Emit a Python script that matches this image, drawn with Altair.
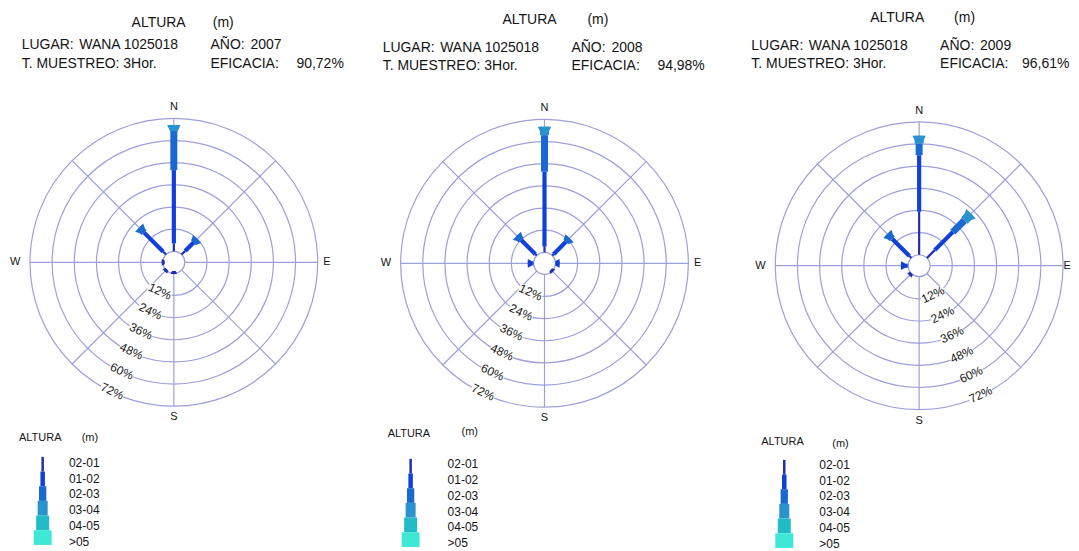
import altair as alt
import pandas as pd

# ---------------- data ----------------
DIRS = ["N", "NE", "E", "SE", "S", "SW", "W", "NW"]
BEARINGS = [0, 45, 90, 135, 180, 225, 270, 315]
CLASSES = ["02-01", "01-02", "02-03", "03-04", "04-05", ">05"]
YEARS = ["2007", "2008", "2009"]
EFICACIA = ["90,72%", "94,98%", "96,61%"]
LUGAR = "WANA 1025018"
MUESTREO = "T. MUESTREO: 3Hor."
RING_PCTS = [12, 24, 36, 48, 60, 72]
RING_TEXT = ["12%", "24%", "36%", "48%", "60%", "72%"]

# frequency (%) per wave-height class, directions N, NE, E, SE, S, SW, W, NW
H2007_0201 = [4.3, 2.7, 0.0, 0.0, 0.4, 1.0, 0.6, 2.2]
H2007_0102 = [39.7, 6.5, 0.0, 0.0, 0.0, 0.0, 0.0, 14.6]
H2007_0203 = [21.7, 2.7, 0.0, 0.0, 0.0, 0.0, 0.0, 3.8]
H2007_0304 = [2.7, 0.0, 0.0, 0.0, 0.0, 0.0, 0.0, 0.0]
H2007_0405 = [0.0, 0.0, 0.0, 0.0, 0.0, 0.0, 0.0, 0.0]
H2007_GT05 = [0.0, 0.0, 0.0, 0.0, 0.0, 0.0, 0.0, 0.0]

H2008_0201 = [3.1, 1.0, 0.0, 0.5, 0.0, 0.0, 0.3, 1.0]
H2008_0102 = [40.6, 9.5, 2.2, 0.0, 0.0, 0.0, 2.8, 10.9]
H2008_0203 = [19.8, 2.8, 0.0, 0.0, 0.0, 0.0, 0.0, 3.3]
H2008_0304 = [4.6, 0.0, 0.0, 0.0, 0.0, 0.0, 0.0, 0.0]
H2008_0405 = [0.0, 0.0, 0.0, 0.0, 0.0, 0.0, 0.0, 0.0]
H2008_GT05 = [0.0, 0.0, 0.0, 0.0, 0.0, 0.0, 0.0, 0.0]

H2009_0201 = [23.3, 6.0, 0.0, 0.0, 0.0, 1.5, 0.3, 1.5]
H2009_0102 = [30.6, 13.8, 0.0, 0.0, 0.0, 0.0, 3.6, 13.1]
H2009_0203 = [6.4, 8.9, 0.0, 0.0, 0.0, 0.0, 0.0, 3.8]
H2009_0304 = [4.2, 5.1, 0.0, 0.0, 0.0, 0.0, 0.0, 0.0]
H2009_0405 = [0.0, 0.0, 0.0, 0.0, 0.0, 0.0, 0.0, 0.0]
H2009_GT05 = [0.0, 0.0, 0.0, 0.0, 0.0, 0.0, 0.0, 0.0]

FREQ = [
    [H2007_0201, H2007_0102, H2007_0203, H2007_0304, H2007_0405, H2007_GT05],
    [H2008_0201, H2008_0102, H2008_0203, H2008_0304, H2008_0405, H2008_GT05],
    [H2009_0201, H2009_0102, H2009_0203, H2009_0304, H2009_0405, H2009_GT05],
]

# ---------------- style / layout ----------------
FONT = "Liberation Sans"
TEXT_COLOR = "#151515"
GRID = "#9e9edb"
CLASS_COLORS = ["#1f30ae", "#1040d8", "#1a68d2", "#2a92cc", "#22bcc8", "#3ee8d4"]
CLASS_WIDTHS = [2.2, 4.2, 7.0, 9.0, 12.0, 16.0]
LEGEND_WIDTHS = [2.5, 4.5, 7.3, 10.0, 13.0, 18.0]
FLARE_EXTRA = 4.5
FLARE_PATH = "M-1,0L1,0L0.55,0.9L-0.55,0.9Z"
BOX_PATH = "M-1,-0.38L1,-0.38L1,0.38L-1,0.38Z"
HOLE = 11.0
K = 133.0 / 72.0
CARD_PCT = [[78.0, 77.0, 78.0, 80.0], [78.0, 77.0, 78.0, 80.0], [78.0, 74.2, 78.0, 80.0]]  # N, E, S, W

TOP = 8
PANEL_W = [354, 354, 355]
PANEL_LEFT = [8, 362, 716]
PANEL_H = 543
CENTER_X = [174, 545, 920]
CENTER_Y = [262.3, 263.3, 265.7]
LABEL_BEARING = [205.5, 205.5, 154.5]
LABEL_ANGLE = [25, 25, 335]

HDR_LEFT = [21.7, 383, 752]
HDR_TITLE_X = [131.7, 503, 871]
HDR_UNIT_X = [213, 588, 955]
HDR_TITLE_Y = [23, 20, 18]
HDR_ROW1_Y = [44.5, 47.5, 46]
HDR_ROW2_Y = [63.3, 66, 64]
HDR_EFF_DX = [275, 275, 271]

LEG_TITLE_X = [19, 388, 762]
LEG_UNIT_X = [81.7, 462, 833]
LEG_TITLE_Y = [438.3, 434, 442]
LEG_UNIT_Y = [438.3, 432, 444]
LEG_CX = [42.7, 411, 785]
LEG_TOP = [457, 459, 460]
LEG_STEP = 14.7
LEG_LAB_X = [69, 448, 820]
LEG_LAB_Y0 = [463, 464.5, 465]
LEG_LAB_STEP = 15.8

color_scale = alt.Scale(domain=CLASSES, range=CLASS_COLORS)


def polar(p, a, ox, oy, shift=0.0):
    r = f"({HOLE} + datum.{p}*{K} + ({shift}))"
    return {ox: f"{r}*sin(datum.{a}*PI/180)", oy: f"{r}*cos(datum.{a}*PI/180)"}


def build_tables(year_lists):
    segs, caps = [], []
    for j, b in enumerate(BEARINGS):
        vals = [lst[j] for lst in year_lists]
        nz = [k for k, v in enumerate(vals) if v > 0]
        if not nz:
            continue
        last = max(nz)
        cum = 0.0
        for k, v in enumerate(vals):
            if v <= 0:
                continue
            segs.append(dict(ang=b, cls=CLASSES[k], p0=cum, p1=cum + v, w=CLASS_WIDTHS[k]))
            cum += v
            if k == last:
                wo = CLASS_WIDTHS[k] + FLARE_EXTRA
                caps.append(dict(ang=b, cls=CLASSES[k], p=cum, s=wo * wo))
    return pd.DataFrame(segs), pd.DataFrame(caps)


def panel(i):
    left = PANEL_LEFT[i]
    W, H = PANEL_W[i], PANEL_H
    cx = CENTER_X[i] - left
    cy = CENTER_Y[i] - TOP
    xs = alt.Scale(domain=[-cx, W - cx], zero=False, nice=False)
    ys = alt.Scale(domain=[-(H - cy), cy], zero=False, nice=False)

    def X(f):
        return alt.X(f + ":Q", scale=xs, axis=None)

    def Y(f):
        return alt.Y(f + ":Q", scale=ys, axis=None)

    layers = []

    # rings
    rings = alt.Chart(pd.DataFrame({"p": [0] + RING_PCTS})).transform_calculate(
        r=f"{HOLE} + datum.p*{K}", zx="0", zy="0"
    ).transform_calculate(sz="pow(2*datum.r, 2)").mark_point(
        shape="circle", filled=False, stroke=GRID, strokeWidth=1.2, opacity=1
    ).encode(x=X("zx"), y=Y("zy"), size=alt.Size("sz:Q", scale=None))
    layers.append(rings)

    # spokes
    spokes = alt.Chart(pd.DataFrame({"ang": BEARINGS})).transform_calculate(
        p0="0", p1=str(RING_PCTS[-1])
    ).transform_calculate(
        **polar("p0", "ang", "x0", "y0"), **polar("p1", "ang", "x1", "y1")
    ).mark_rule(stroke=GRID, strokeWidth=1.2).encode(
        x=X("x0"), y=Y("y0"), x2="x1:Q", y2="y1:Q"
    )
    layers.append(spokes)

    # ring labels with white boxes
    lab = alt.Chart(pd.DataFrame({"p": RING_PCTS, "t": RING_TEXT})).transform_calculate(
        ang=str(LABEL_BEARING[i])
    ).transform_calculate(**polar("p", "ang", "lx", "ly", shift=-1.0))
    layers.append(
        lab.mark_point(shape=BOX_PATH, filled=True, fill="white", strokeWidth=0,
                       opacity=1, size=620, angle=LABEL_ANGLE[i]).encode(x=X("lx"), y=Y("ly"))
    )
    layers.append(
        lab.mark_text(angle=LABEL_ANGLE[i], fontSize=12, font=FONT, color=TEXT_COLOR,
                      align="center", baseline="middle").encode(x=X("lx"), y=Y("ly"), text="t:N")
    )

    # cardinal labels
    card = alt.Chart(pd.DataFrame({"lab": DIRS[::2], "ang": BEARINGS[::2], "p": CARD_PCT[i]})
                     ).transform_calculate(**polar("p", "ang", "cx", "cy")).mark_text(
        fontSize=11, font=FONT, color=TEXT_COLOR, align="center", baseline="middle"
    ).encode(x=X("cx"), y=Y("cy"), text="lab:N")
    layers.append(card)

    # petals
    segs, caps = build_tables(FREQ[i])
    body = alt.Chart(segs).transform_calculate(
        **polar("p0", "ang", "x0", "y0"), **polar("p1", "ang", "x1", "y1")
    ).mark_rule(strokeCap="butt", opacity=1).encode(
        x=X("x0"), y=Y("y0"), x2="x1:Q", y2="y1:Q",
        size=alt.Size("w:Q", scale=None),
        color=alt.Color("cls:N", scale=color_scale, legend=None),
    )
    layers.append(body)
    cap = alt.Chart(caps).transform_calculate(**polar("p", "ang", "fx", "fy")).mark_point(
        shape=FLARE_PATH, filled=True, opacity=1, strokeWidth=0
    ).encode(
        x=X("fx"), y=Y("fy"),
        size=alt.Size("s:Q", scale=None),
        angle=alt.Angle("ang:Q", scale=None),
        color=alt.Color("cls:N", scale=color_scale, legend=None),
    )
    layers.append(cap)

    # legend
    leg_df = pd.DataFrame({"cls": CLASSES, "idx": list(range(len(CLASSES))), "lw": LEGEND_WIDTHS})
    leg = alt.Chart(leg_df).transform_calculate(
        lx=str(LEG_CX[i] - left - cx),
        ly0=f"{cy} - ({LEG_TOP[i] - TOP} + datum.idx*{LEG_STEP})",
        tx=str(LEG_LAB_X[i] - left - cx),
        ty=f"{cy} - ({LEG_LAB_Y0[i] - TOP} + datum.idx*{LEG_LAB_STEP})",
    ).transform_calculate(ly1=f"datum.ly0 - {LEG_STEP}")
    layers.append(
        leg.mark_rule(strokeCap="butt", opacity=1).encode(
            x=X("lx"), y=Y("ly0"), y2="ly1:Q",
            size=alt.Size("lw:Q", scale=None),
            color=alt.Color("cls:N", scale=color_scale, legend=None),
        )
    )
    layers.append(
        leg.mark_text(fontSize=12, font=FONT, color=TEXT_COLOR, align="left", baseline="middle").encode(
            x=X("tx"), y=Y("ty"), text="cls:N"
        )
    )

    one = pd.DataFrame({"k": [0]})

    def txt(t, xp, yp, size):
        return alt.Chart(one).mark_text(
            text=t, fontSize=size, font=FONT, color=TEXT_COLOR, align="left", baseline="middle"
        ).encode(x=alt.value(xp - left), y=alt.value(yp - TOP))

    hl = HDR_LEFT[i]
    layers += [
        txt("ALTURA", HDR_TITLE_X[i], HDR_TITLE_Y[i], 14),
        txt("(m)", HDR_UNIT_X[i], HDR_TITLE_Y[i], 14),
        txt("LUGAR:", hl, HDR_ROW1_Y[i], 14),
        txt(LUGAR, hl + 57.6, HDR_ROW1_Y[i], 14),
        txt("AÑO:", hl + 189, HDR_ROW1_Y[i], 14),
        txt(YEARS[i], hl + 229, HDR_ROW1_Y[i], 14),
        txt(MUESTREO, hl, HDR_ROW2_Y[i], 14),
        txt("EFICACIA:", hl + 189, HDR_ROW2_Y[i], 14),
        txt(EFICACIA[i], hl + HDR_EFF_DX[i], HDR_ROW2_Y[i], 14),
        txt("ALTURA", LEG_TITLE_X[i], LEG_TITLE_Y[i], 11),
        txt("(m)", LEG_UNIT_X[i], LEG_UNIT_Y[i], 11),
    ]

    return alt.layer(*layers).properties(width=W, height=H)


chart = alt.hconcat(panel(0), panel(1), panel(2), spacing=0, bounds="flush").properties(
    padding=0
).configure_view(stroke=None)

chart.save("out.html", embed_options={"renderer": "svg", "actions": False})
